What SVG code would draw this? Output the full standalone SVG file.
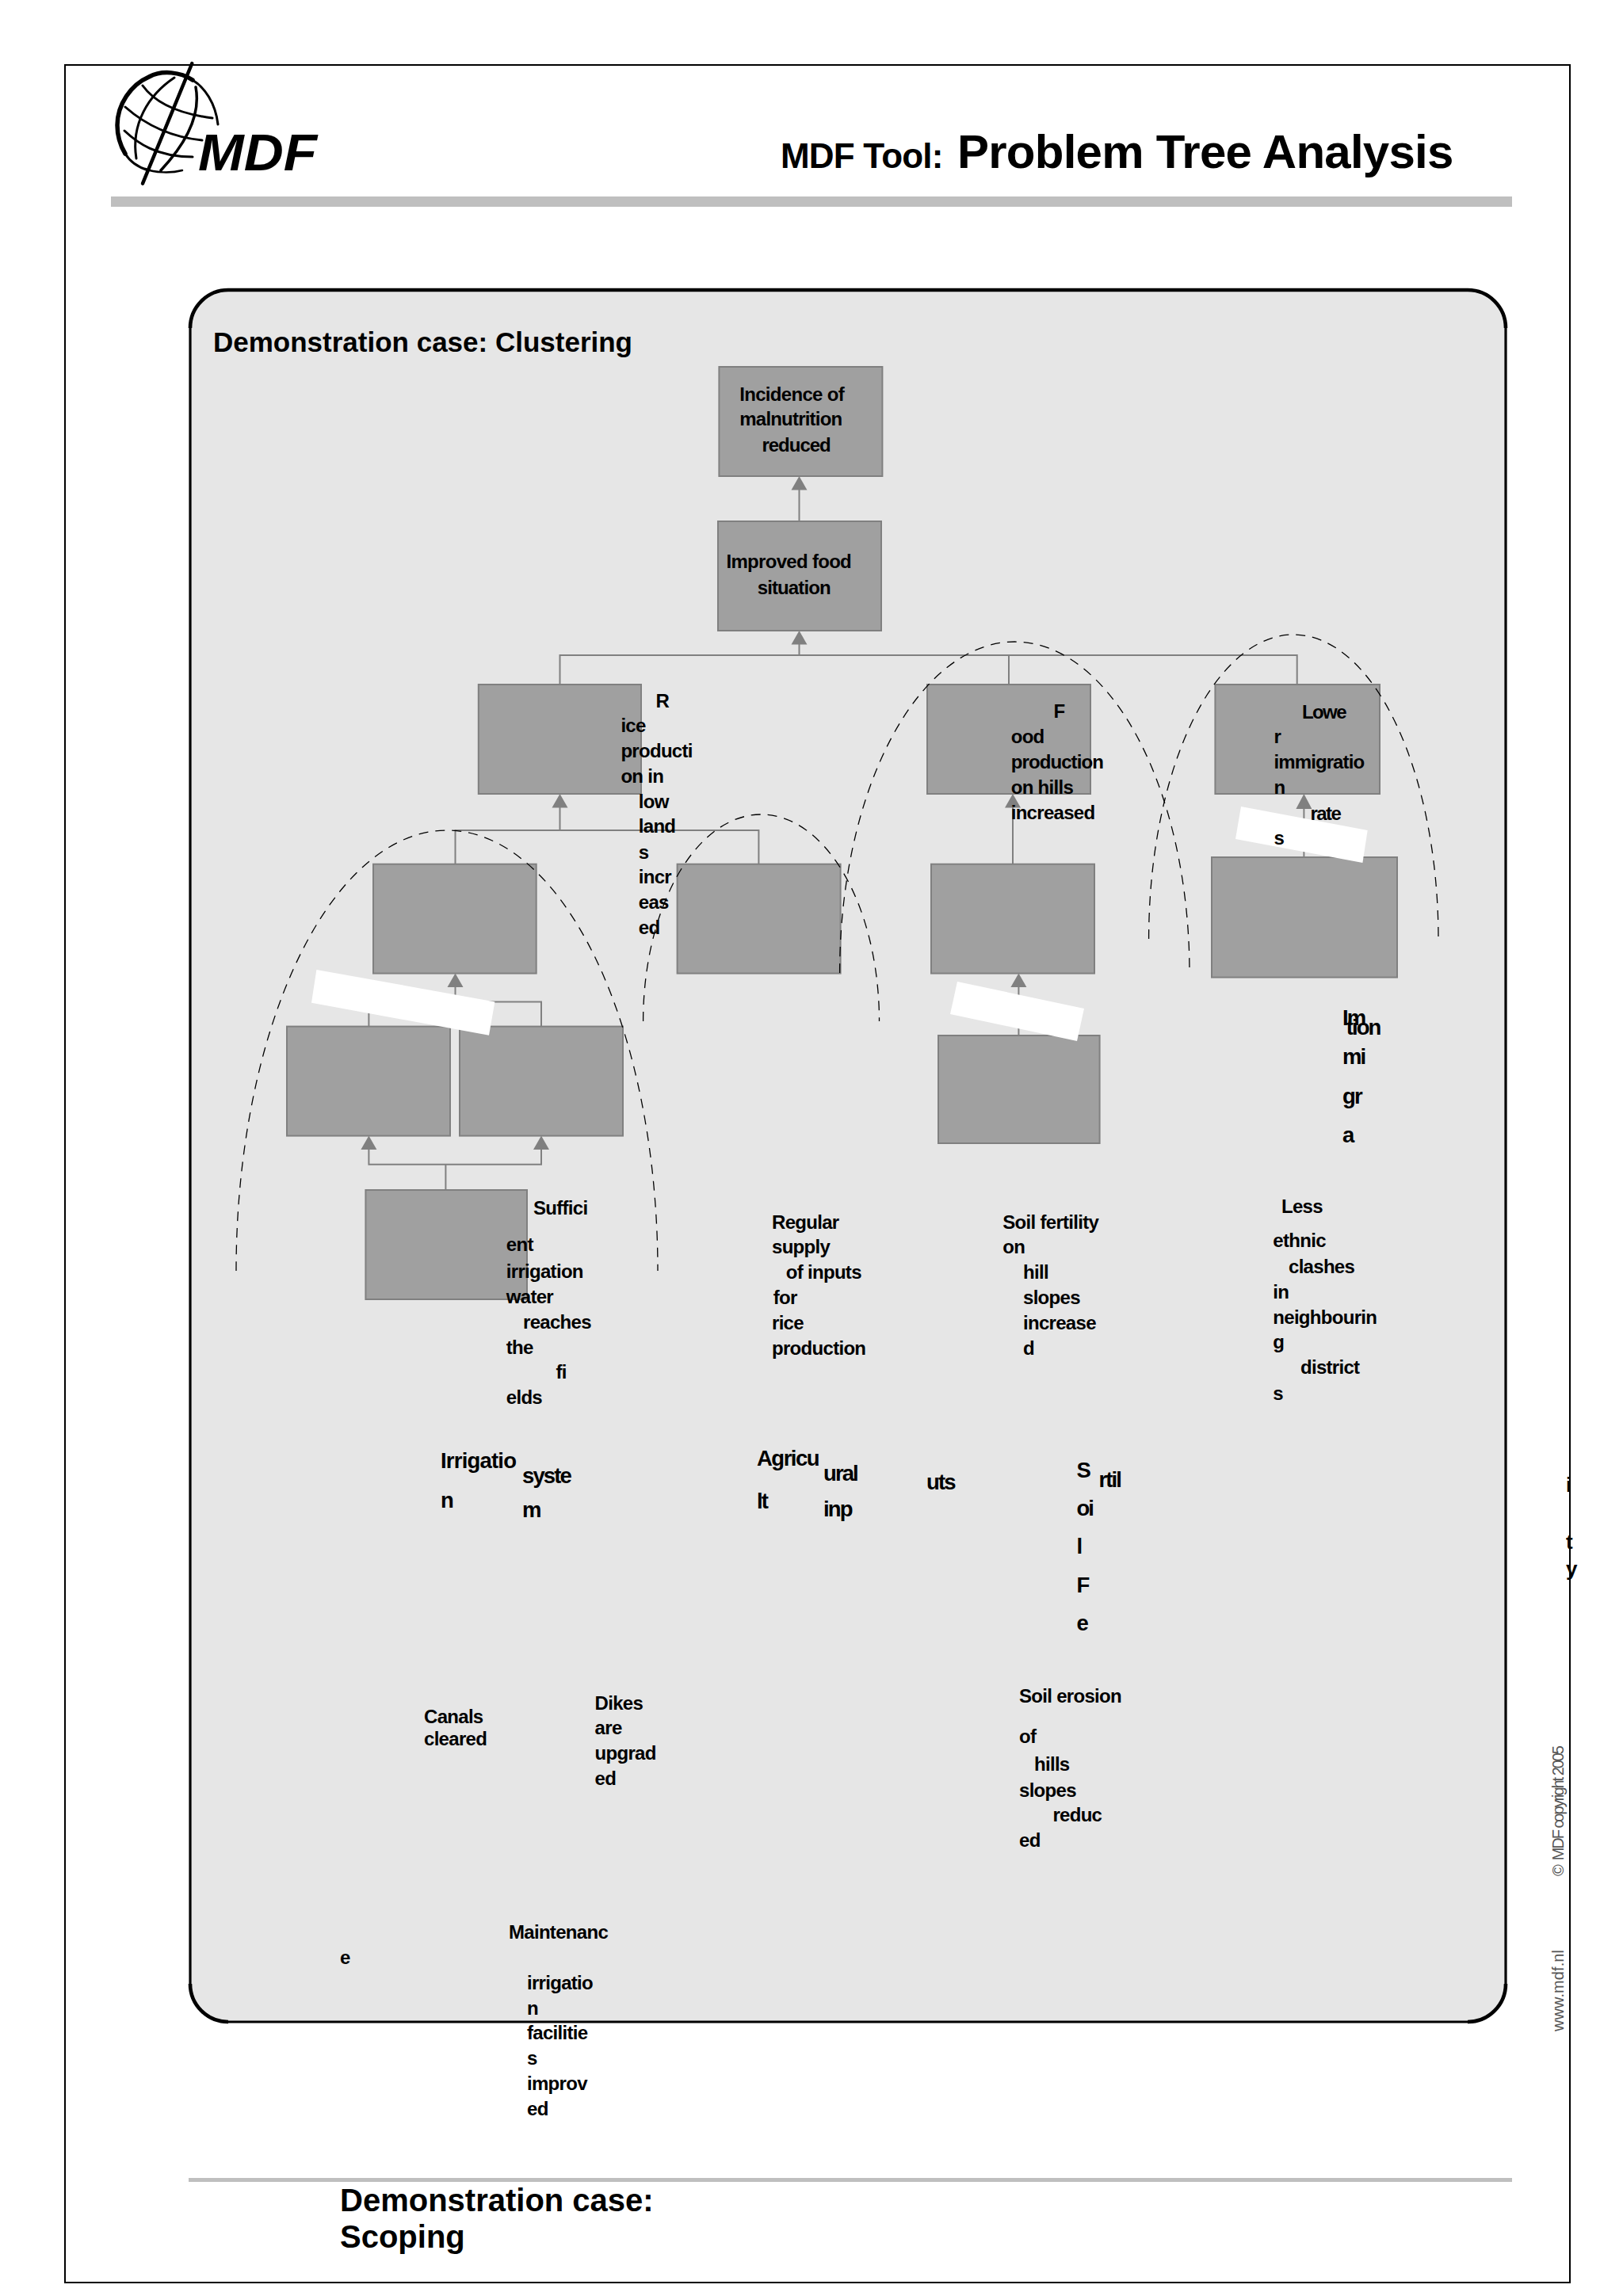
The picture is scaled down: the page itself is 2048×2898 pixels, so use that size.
<svg xmlns="http://www.w3.org/2000/svg" width="2048" height="2898" viewBox="0 0 2048 2898">
<style>
text{font-family:"Liberation Sans",Arial,sans-serif;fill:#000}
.t{font-size:24px;font-weight:bold;letter-spacing:-.7px}
.b{font-size:27.5px;font-weight:bold;letter-spacing:-1.9px}
.h1{font-size:60px;font-weight:bold;letter-spacing:-.75px}
.h2{font-size:44px;font-weight:bold;letter-spacing:-.8px}
.h3{font-size:35px;font-weight:bold}
.h4{font-size:40px;font-weight:bold}
.side{font-size:20px;fill:#555}
.stray{font-size:26px;font-weight:bold}
.box{fill:#a0a0a0;stroke:#808080;stroke-width:2}
.con{fill:none;stroke:#808080;stroke-width:2}
.head{fill:#808080}
.dash{fill:none;stroke:#000;stroke-width:1.3;stroke-dasharray:12 9}
.patch{fill:#fff}
.lg{fill:none;stroke:#000;stroke-width:3;stroke-linecap:round}
</style>
<rect x="82" y="82" width="1899" height="2799" fill="#fff" stroke="#000" stroke-width="2"/>
<g id="logo">
<path class="lg" style="stroke-width:4.5" d="M242.3,80 L180,231.7"/>
<path class="lg" style="stroke-width:5.5" d="M243,101 C228,91 205,88 188,97 C165,107 148,132 148,158 C148,172 152,184 158,194"/>
<path class="lg" d="M275,157 C272,130 258,110 243,101"/>
<path class="lg" d="M158,194 C164,204 174,211 187,215"/>
<path class="lg" d="M180,108 C190,122 213,142 268,149"/>
<path class="lg" d="M158,135 C175,150 205,172 255,177"/>
<path class="lg" d="M157,165 C173,180 197,198 243,198"/>
<path class="lg" style="stroke-width:2.5" d="M183,213 C195,218 215,219 230,215"/>
<path class="lg" d="M220,98 C187,120 165,157 172,200"/>
<path class="lg" style="stroke-width:3.5" d="M247,110 C254,147 233,183 203,215"/>
<text x="250" y="215" font-size="64" font-weight="bold" font-style="italic" textLength="150" lengthAdjust="spacingAndGlyphs">MDF</text>
</g>
<rect id="header-bar" x="140" y="248" width="1768" height="13" fill="#bfbfbf"/>
<text class="h2" x="985" y="212">MDF Tool:</text>
<text class="h1" x="1208" y="212">Problem Tree Analysis</text>
<rect id="panel" x="240" y="366" width="1660" height="2186" rx="48" ry="48" fill="#e6e6e6" stroke="#000" stroke-width="3.2"/>
<path d="M240,414 A48,48 0 0 1 288,366 H1852 A48,48 0 0 1 1900,414 M1900,2504 A48,48 0 0 1 1852,2552 M288,2552 A48,48 0 0 1 240,2504" stroke="#000" stroke-width="4.6" fill="none"/>
<text class="h3" x="269" y="444">Demonstration case: Clustering</text>

<g id="connectors">
<path class="con" d="M1008.5,658 V612"/>
<path class="head" d="M1008.5,601 l10,17.5 h-20 Z"/>
<path class="con" d="M706.5,864 V827 H1636.7 V864 M1273,827 V864"/>
<path class="con" d="M1008.5,827 V807"/>
<path class="head" d="M1008.5,796 l10,17.5 h-20 Z"/>
<path class="con" d="M574.5,1090.7 V1048 H957.4 V1090.7 M706.5,1048 V1012"/>
<path class="head" d="M706.5,1002 l10,17.5 h-20 Z"/>
<path class="con" d="M465.4,1295.6 V1264.4 H683 V1295.6 M574.5,1264.4 V1240"/>
<path class="head" d="M574.5,1228.6 l10,17.5 h-20 Z"/>
<path class="con" d="M562.4,1502 V1469.7 M465.4,1445 V1469.7 H683 V1445"/>
<path class="head" d="M465.4,1433.6 l10,17.5 h-20 Z M683,1433.6 l10,17.5 h-20 Z"/>
<path class="con" d="M1278,1090.7 V1012"/>
<path class="head" d="M1278,1002 l10,17.5 h-20 Z"/>
<path class="con" d="M1285.4,1307 V1240"/>
<path class="head" d="M1285.4,1228.6 l10,17.5 h-20 Z"/>
<path class="con" d="M1645.4,1082 V1012"/>
<path class="head" d="M1645.4,1002 l10,19 h-20 Z"/>
</g>

<g id="nodes">
<g id="n-incidence"><rect class="box" x="907.4" y="463" width="206" height="138"/>
<text class="t" x="933.3" y="506">Incidence of</text><text class="t" x="933.3" y="537.4" style="letter-spacing:-.8px">malnutrition</text><text class="t" x="961.4" y="569.5" style="letter-spacing:-1px">reduced</text></g>
<g id="n-food"><rect class="box" x="906" y="658" width="206" height="138"/>
<text class="t" x="916.5" y="717.3">Improved food</text><text class="t" x="955.8" y="749.5" style="letter-spacing:-.9px">situation</text></g>
<g id="n-rice"><rect class="box" x="603.8" y="864" width="205.2" height="138"/>
<text class="t" x="827.6" y="892.5">R</text><text class="t" x="783.4" y="924">ice</text><text class="t" x="783.4" y="956">producti</text><text class="t" x="783.4" y="987.6">on in</text><text class="t" x="805.8" y="1019.7">low</text><text class="t" x="805.8" y="1051.4">land</text><text class="t" x="805.8" y="1083.6">s</text><text class="t" x="805.8" y="1115">incr</text><text class="t" x="805.8" y="1147">eas</text><text class="t" x="805.8" y="1179">ed</text></g>
<g id="n-hills"><rect class="box" x="1170" y="864" width="206" height="138"/>
<text class="t" x="1329.6" y="906">F</text><text class="t" x="1275.7" y="938">ood</text><text class="t" x="1275.7" y="970" style="letter-spacing:-.9px">production</text><text class="t" x="1275.7" y="1002">on hills</text><text class="t" x="1275.7" y="1034">increased</text></g>
<g id="n-lower"><rect class="box" x="1533.4" y="864" width="207.6" height="138"/>
<text class="t" x="1643" y="906.8" style="letter-spacing:-1.6px">Lowe</text><text class="t" x="1607.5" y="938">r</text><text class="t" x="1607.5" y="970" style="letter-spacing:-.9px">immigratio</text><text class="t" x="1607.5" y="1002">n</text><text class="t" x="1653.4" y="1034.5" style="letter-spacing:-1.5px">rate</text></g>
<g id="n-irrigation"><rect class="box" x="471" y="1090.7" width="205.7" height="137.9"/>
<text class="b" x="556" y="1853" style="letter-spacing:-.8px">Irrigatio</text><text class="b" x="556" y="1903">n</text><text class="b" x="659" y="1871.5">syste</text><text class="b" x="659" y="1915">m</text></g>
<g id="n-agri"><rect class="box" x="854.6" y="1090.7" width="206" height="137.9"/>
<text class="b" x="955" y="1849.6" style="letter-spacing:-1.5px">Agricu</text><text class="b" x="955" y="1904">lt</text><text class="b" x="1039" y="1869">ural</text><text class="b" x="1039" y="1914">inp</text><text class="b" x="1169" y="1880">uts</text></g>
<g id="n-soil"><rect class="box" x="1175" y="1090.7" width="206" height="137.9"/>
<text class="b" x="1358.4" y="1865">S</text><text class="b" x="1358.4" y="1913">oi</text><text class="b" x="1358.4" y="1961">l</text><text class="b" x="1358.4" y="2010">F</text><text class="b" x="1358.4" y="2058">e</text><text class="b" x="1386.5" y="1877">rtil</text></g>
<g id="n-immigration"><rect class="box" x="1529" y="1082" width="234" height="151.6"/>
<text class="b" x="1694" y="1294">Im</text><text class="b" x="1694" y="1343">mi</text><text class="b" x="1694" y="1392.5">gr</text><text class="b" x="1694" y="1441.6">a</text><text class="b" x="1698.7" y="1306">tion</text></g>
<g id="n-canals"><rect class="box" x="362" y="1295.6" width="206" height="138"/>
<text class="t" x="535" y="2174.6">Canals</text><text class="t" x="535" y="2203">cleared</text></g>
<g id="n-dikes"><rect class="box" x="580" y="1295.6" width="206" height="138"/>
<text class="t" x="750.6" y="2157.7">Dikes</text><text class="t" x="750.6" y="2189">are</text><text class="t" x="750.6" y="2221">upgrad</text><text class="t" x="750.6" y="2252.8">ed</text></g>
<g id="n-erosion"><rect class="box" x="1184" y="1307" width="203.6" height="136"/>
<text class="t" x="1286" y="2149">Soil erosion</text><text class="t" x="1286" y="2200">of</text><text class="t" x="1305" y="2235">hills</text><text class="t" x="1286" y="2267.5">slopes</text><text class="t" x="1328.4" y="2299">reduc</text><text class="t" x="1286" y="2331">ed</text></g>
<g id="n-maint"><rect class="box" x="461.4" y="1502" width="203.6" height="138"/>
<text class="t" x="642" y="2447">Maintenanc</text><text class="t" x="429" y="2479">e</text><text class="t" x="665" y="2510.8">irrigatio</text><text class="t" x="665" y="2542.6">n</text><text class="t" x="665" y="2574.4">facilitie</text><text class="t" x="665" y="2606">s</text><text class="t" x="665" y="2638">improv</text><text class="t" x="665" y="2670">ed</text></g>
<g id="l-sufficient"><text class="t" x="673" y="1533">Suffici</text><text class="t" x="638.8" y="1579">ent</text><text class="t" x="638.8" y="1613">irrigation</text><text class="t" x="638.8" y="1645">water</text><text class="t" x="660" y="1676.7">reaches</text><text class="t" x="638.8" y="1708.7">the</text><text class="t" x="701.4" y="1740">fi</text><text class="t" x="638.8" y="1772">elds</text></g>
<g id="l-regular"><text class="t" x="974" y="1551">Regular</text><text class="t" x="974" y="1582">supply</text><text class="t" x="991.8" y="1614">of inputs</text><text class="t" x="975.8" y="1646">for</text><text class="t" x="974" y="1678">rice</text><text class="t" x="974" y="1709.7">production</text></g>
<g id="l-fertility"><text class="t" x="1265.3" y="1551">Soil fertility</text><text class="t" x="1265.3" y="1582">on</text><text class="t" x="1291" y="1614">hill</text><text class="t" x="1291" y="1646">slopes</text><text class="t" x="1291" y="1678">increase</text><text class="t" x="1291" y="1709.7">d</text></g>
<g id="l-less"><text class="t" x="1617" y="1531">Less</text><text class="t" x="1606.3" y="1573.7">ethnic</text><text class="t" x="1626" y="1606.7">clashes</text><text class="t" x="1606.3" y="1638.7">in</text><text class="t" x="1606.3" y="1670.7">neighbourin</text><text class="t" x="1606.3" y="1702">g</text><text class="t" x="1641" y="1734">district</text><text class="t" x="1606.3" y="1766.7">s</text></g>
</g>

<g id="patches">
<polygon class="patch" points="399.4,1224 624.4,1264.4 617,1306.8 393,1265.7"/>
<polygon class="patch" points="1208,1239 1368,1273 1359,1314 1199,1280"/>
<polygon class="patch" points="1566,1018 1725.7,1048 1719.4,1089 1559,1059"/>
</g>
<text class="t" x="1607.5" y="1066">s</text>

<g id="clusters">
<path class="dash" d="M298,1604 A266,556 0 0 1 830,1604"/>
<path class="dash" d="M811.6,1289 A148.95,261 0 0 1 1109.5,1289"/>
<path class="dash" d="M1059.6,1228 A220.7,418 0 0 1 1501,1228"/>
<path class="dash" d="M1449.6,1185 A182.7,384 0 0 1 1815,1185"/>
</g>

<text class="stray" x="1976" y="1883">i</text>
<text class="stray" x="1976" y="1955">t</text>
<text class="stray" x="1976" y="1989">y</text>
<text class="side" transform="translate(1973 2368) rotate(-90)" textLength="165">©<tspan dx="7">MDF copyright 2005</tspan></text>
<text class="side" transform="translate(1973 2564) rotate(-90)" textLength="103">www.mdf.nl</text>
<rect id="footer-bar" x="238" y="2749" width="1670" height="5" fill="#bfbfbf"/>
<text class="h4" x="429" y="2791">Demonstration case:</text>
<text class="h4" x="429" y="2836.5">Scoping</text>
</svg>
